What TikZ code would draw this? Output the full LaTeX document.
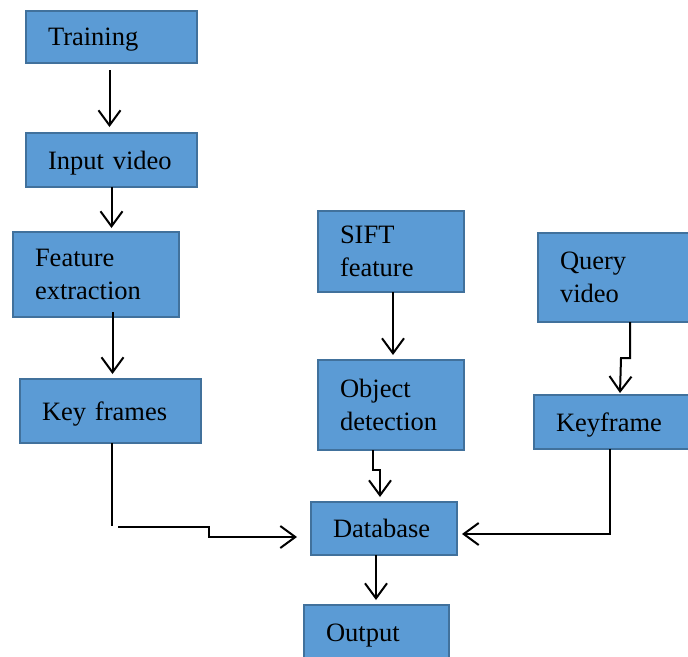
\documentclass[tikz,border=0pt]{standalone}
\usepackage{fontspec}
\setmainfont{Liberation Serif}
\usepackage{tikz}
\usetikzlibrary{positioning, arrows.meta}
\definecolor{boxfill}{HTML}{5B9BD5}
\definecolor{boxline}{HTML}{41719C}
\tikzset{
	x=1pt, y=-1pt,
	every text node part/.style= {
		align=left
	},
	block/.style= {
		rectangle,
		anchor=north west,
		draw=boxline,
		fill=boxfill,
		line width=2pt,
		inner xsep=22pt,
		inner ysep=0pt,
		outer sep=0pt,
		font=\fontsize{26.5}{33}\selectfont
	},
	oneline/.style= {
		text depth=0pt
	},
	link/.style= {
		line width=2pt,
		-{Straight Barb[length=15pt, width=22pt, line width=2pt]}
	}
}

\begin{document}
\begin{tikzpicture}
	\useasboundingbox (0,0) rectangle (688,656);
	
	\node (training)[block, oneline, text width=127pt, minimum height=52pt] at (26,11) {Training};
	\node (inputvideo)[block, oneline, text width=127pt, minimum height=54pt] at (26,133) {Input video};
	\node (featextr)[block, text width=122pt, minimum height=85pt] at (13,232) {Feature\\extraction};
	\node (keyframes)[block, oneline, text width=137pt, minimum height=64pt] at (20,379) {Key frames};
	
	\node (sift)[block, text width=102pt, minimum height=81pt] at (318,211) {SIFT\\feature};
	\node (objdet)[block, text width=102pt, minimum height=90pt] at (318,360) {Object\\detection};
	
	\node (query)[block, text width=110pt, minimum height=89pt] at (538,233) {Query\\video};
	\node (keyframe)[block, oneline, text width=114pt, minimum height=54pt] at (534,395) {Keyframe};
	
	\node (database)[block, oneline, text width=102pt, minimum height=53pt] at (311,502) {Database};
	\node (output)[block, oneline, text width=101pt, minimum height=55pt] at (304,605) {Output};
	
	% left column
	\draw[link, shorten <=7pt, shorten >=6pt]([xshift=-2pt]training.south) to ([xshift=-2pt]training.south |- inputvideo.north);
	\draw[link, shorten >=4pt](inputvideo.south) to (inputvideo.south |- featextr.north);
	\draw[link, shorten <=-5pt, shorten >=5pt]([xshift=2pt]keyframes.north |- featextr.south) to ([xshift=2pt]keyframes.north);
	
	% middle column
	\draw[link, shorten >=5pt]([xshift=2pt]sift.south) to ([xshift=2pt]objdet.north);
	\draw[link]([xshift=-18pt]objdet.south) -- ++(0,20) -- ++(7,0) -- ([xshift=-4pt, yshift=5pt]database.north);
	\draw[link, shorten >=5pt]([xshift=-8pt]database.south) to ([xshift=-8pt]database.south |- output.north);
	
	% right column
	\draw[link]([xshift=15pt]query.south) -- ++(0,36) -- ++(-9,0) -- ([xshift=7pt, yshift=2pt]keyframe.north);
	\draw[link]([xshift=-3pt]keyframe.south) |- ([xshift=5pt, yshift=-5.5pt]database.east);
	
	% key frames into database
	\draw[line width=2pt]([xshift=1.5pt]keyframes.south) -- ++(0,83);
	\draw[link]([xshift=7.5pt, yshift=-84pt]keyframes.south) -- ++(91,0) -- ++(0,10) -- ([xshift=-14pt, yshift=-8.5pt]database.west);
	
\end{tikzpicture}
\end{document}
